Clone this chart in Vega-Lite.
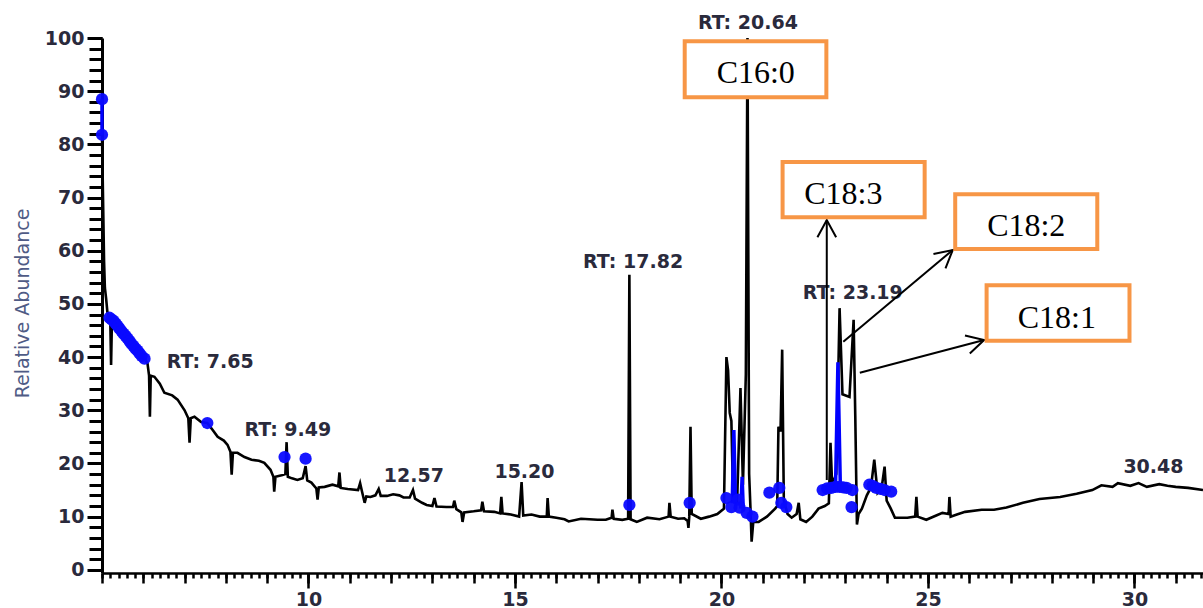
{
  "$schema": "https://vega.github.io/schema/vega-lite/v6.json",
  "width": 1101,
  "height": 535,
  "autosize": {"type": "none"},
  "padding": {"left": 102, "top": 38, "right": 0, "bottom": 35},
  "background": "white",
  "config": {"view": {"stroke": null}},
  "datasets": {
    "trace": [
      {"rt": 5.00, "abundance": 81.8}, {"rt": 5.03, "abundance": 67.5}, {"rt": 5.05, "abundance": 58}, {"rt": 5.07, "abundance": 53},
      {"rt": 5.10, "abundance": 51}, {"rt": 5.13, "abundance": 48.5}, {"rt": 5.17, "abundance": 47.5}, {"rt": 5.20, "abundance": 47.2},
      {"rt": 5.22, "abundance": 38.5}, {"rt": 5.24, "abundance": 46.8}, {"rt": 5.30, "abundance": 46.5}, {"rt": 5.40, "abundance": 45.5},
      {"rt": 5.50, "abundance": 44.6}, {"rt": 5.60, "abundance": 43.6}, {"rt": 5.70, "abundance": 42.7}, {"rt": 5.80, "abundance": 41.8},
      {"rt": 5.90, "abundance": 40.8}, {"rt": 6.00, "abundance": 40.0}, {"rt": 6.10, "abundance": 38.9}, {"rt": 6.14, "abundance": 36.5},
      {"rt": 6.16, "abundance": 28.8}, {"rt": 6.18, "abundance": 36.5}, {"rt": 6.27, "abundance": 36.3}, {"rt": 6.40, "abundance": 35.0},
      {"rt": 6.51, "abundance": 33.3}, {"rt": 6.70, "abundance": 32.8}, {"rt": 6.83, "abundance": 32.0}, {"rt": 7.00, "abundance": 30.0},
      {"rt": 7.09, "abundance": 28.5}, {"rt": 7.12, "abundance": 23.9}, {"rt": 7.15, "abundance": 28.5}, {"rt": 7.24, "abundance": 28.8},
      {"rt": 7.40, "abundance": 27.8}, {"rt": 7.55, "abundance": 27.6}, {"rt": 7.68, "abundance": 26.3}, {"rt": 7.80, "abundance": 25.0},
      {"rt": 7.95, "abundance": 24.3}, {"rt": 8.04, "abundance": 23.5}, {"rt": 8.11, "abundance": 22.2}, {"rt": 8.14, "abundance": 17.9},
      {"rt": 8.17, "abundance": 22.0}, {"rt": 8.28, "abundance": 22.0}, {"rt": 8.45, "abundance": 21.2}, {"rt": 8.62, "abundance": 20.7},
      {"rt": 8.80, "abundance": 20.5}, {"rt": 8.93, "abundance": 20.1}, {"rt": 9.08, "abundance": 18.8}, {"rt": 9.15, "abundance": 17.5},
      {"rt": 9.17, "abundance": 14.7}, {"rt": 9.20, "abundance": 17.5}, {"rt": 9.35, "abundance": 17.8}, {"rt": 9.44, "abundance": 18.0},
      {"rt": 9.47, "abundance": 24.0}, {"rt": 9.50, "abundance": 17.5}, {"rt": 9.60, "abundance": 17.2}, {"rt": 9.73, "abundance": 16.9},
      {"rt": 9.86, "abundance": 17.2}, {"rt": 9.93, "abundance": 19.5}, {"rt": 9.97, "abundance": 16.8}, {"rt": 10.07, "abundance": 16.4},
      {"rt": 10.19, "abundance": 15.3}, {"rt": 10.22, "abundance": 13.2}, {"rt": 10.25, "abundance": 15.5}, {"rt": 10.39, "abundance": 15.6},
      {"rt": 10.58, "abundance": 16.0}, {"rt": 10.72, "abundance": 15.7}, {"rt": 10.75, "abundance": 18.3}, {"rt": 10.78, "abundance": 15.4},
      {"rt": 10.95, "abundance": 15.2}, {"rt": 11.20, "abundance": 15.0}, {"rt": 11.25, "abundance": 16.3}, {"rt": 11.30, "abundance": 14.6},
      {"rt": 11.36, "abundance": 12.6}, {"rt": 11.40, "abundance": 13.8}, {"rt": 11.50, "abundance": 13.7}, {"rt": 11.62, "abundance": 14.0},
      {"rt": 11.70, "abundance": 15.2}, {"rt": 11.75, "abundance": 13.9}, {"rt": 11.90, "abundance": 13.9}, {"rt": 12.05, "abundance": 14.2},
      {"rt": 12.20, "abundance": 14.0}, {"rt": 12.30, "abundance": 13.6}, {"rt": 12.45, "abundance": 13.6}, {"rt": 12.53, "abundance": 15.0},
      {"rt": 12.58, "abundance": 13.4}, {"rt": 12.75, "abundance": 12.6}, {"rt": 12.86, "abundance": 12.2}, {"rt": 13.00, "abundance": 12.0},
      {"rt": 13.05, "abundance": 13.5}, {"rt": 13.10, "abundance": 11.9}, {"rt": 13.34, "abundance": 11.8}, {"rt": 13.50, "abundance": 11.8},
      {"rt": 13.53, "abundance": 13.0}, {"rt": 13.58, "abundance": 11.4}, {"rt": 13.70, "abundance": 10.8}, {"rt": 13.73, "abundance": 9.0},
      {"rt": 13.77, "abundance": 10.8}, {"rt": 14.00, "abundance": 11.0}, {"rt": 14.18, "abundance": 11.2}, {"rt": 14.21, "abundance": 12.8},
      {"rt": 14.25, "abundance": 11.0}, {"rt": 14.50, "abundance": 10.9}, {"rt": 14.64, "abundance": 10.6}, {"rt": 14.67, "abundance": 13.7},
      {"rt": 14.70, "abundance": 10.6}, {"rt": 14.90, "abundance": 10.4}, {"rt": 15.10, "abundance": 10.0}, {"rt": 15.16, "abundance": 16.5},
      {"rt": 15.20, "abundance": 10.2}, {"rt": 15.40, "abundance": 10.4}, {"rt": 15.60, "abundance": 10.0}, {"rt": 15.77, "abundance": 10.0},
      {"rt": 15.79, "abundance": 13.5}, {"rt": 15.82, "abundance": 10.0}, {"rt": 16.00, "abundance": 9.8}, {"rt": 16.20, "abundance": 9.5},
      {"rt": 16.30, "abundance": 9.1}, {"rt": 16.60, "abundance": 9.6}, {"rt": 17.00, "abundance": 9.4}, {"rt": 17.20, "abundance": 9.4},
      {"rt": 17.34, "abundance": 9.8}, {"rt": 17.36, "abundance": 11.3}, {"rt": 17.39, "abundance": 9.6}, {"rt": 17.60, "abundance": 9.4},
      {"rt": 17.74, "abundance": 9.6}, {"rt": 17.77, "abundance": 55.5}, {"rt": 17.80, "abundance": 9.5}, {"rt": 17.95, "abundance": 9.0},
      {"rt": 18.20, "abundance": 9.8}, {"rt": 18.50, "abundance": 9.5}, {"rt": 18.72, "abundance": 10.0}, {"rt": 18.74, "abundance": 12.6},
      {"rt": 18.77, "abundance": 10.0}, {"rt": 18.95, "abundance": 9.6}, {"rt": 19.10, "abundance": 9.7}, {"rt": 19.18, "abundance": 9.2},
      {"rt": 19.20, "abundance": 7.9}, {"rt": 19.22, "abundance": 10.0}, {"rt": 19.25, "abundance": 26.9}, {"rt": 19.28, "abundance": 10.5},
      {"rt": 19.50, "abundance": 9.6}, {"rt": 19.70, "abundance": 10.0}, {"rt": 19.90, "abundance": 10.5}, {"rt": 20.06, "abundance": 11.5},
      {"rt": 20.12, "abundance": 40.0}, {"rt": 20.16, "abundance": 37.5}, {"rt": 20.20, "abundance": 29.5}, {"rt": 20.24, "abundance": 28.0},
      {"rt": 20.28, "abundance": 14.0}, {"rt": 20.38, "abundance": 13.0}, {"rt": 20.46, "abundance": 34.2}, {"rt": 20.52, "abundance": 16.0},
      {"rt": 20.59, "abundance": 36.7}, {"rt": 20.63, "abundance": 100}, {"rt": 20.67, "abundance": 18.0}, {"rt": 20.70, "abundance": 12.0},
      {"rt": 20.73, "abundance": 5.3}, {"rt": 20.77, "abundance": 9.0}, {"rt": 20.90, "abundance": 9.0}, {"rt": 21.10, "abundance": 10.0},
      {"rt": 21.30, "abundance": 11.5}, {"rt": 21.35, "abundance": 12.0}, {"rt": 21.38, "abundance": 26.9}, {"rt": 21.43, "abundance": 26.0},
      {"rt": 21.47, "abundance": 41.4}, {"rt": 21.51, "abundance": 13.0}, {"rt": 21.60, "abundance": 10.5}, {"rt": 21.70, "abundance": 9.8},
      {"rt": 21.82, "abundance": 10.5}, {"rt": 21.87, "abundance": 12.6}, {"rt": 21.91, "abundance": 9.5}, {"rt": 22.05, "abundance": 9.0},
      {"rt": 22.20, "abundance": 10.0}, {"rt": 22.35, "abundance": 11.5}, {"rt": 22.50, "abundance": 12.0}, {"rt": 22.60, "abundance": 12.5},
      {"rt": 22.64, "abundance": 23.9}, {"rt": 22.68, "abundance": 16.0}, {"rt": 22.78, "abundance": 18.0}, {"rt": 22.86, "abundance": 49.2},
      {"rt": 22.93, "abundance": 33.0}, {"rt": 23.10, "abundance": 32.5}, {"rt": 23.20, "abundance": 47.0}, {"rt": 23.24, "abundance": 29.0},
      {"rt": 23.28, "abundance": 8.5}, {"rt": 23.32, "abundance": 10.5}, {"rt": 23.40, "abundance": 11.5}, {"rt": 23.52, "abundance": 14.0},
      {"rt": 23.62, "abundance": 15.5}, {"rt": 23.70, "abundance": 20.7}, {"rt": 23.78, "abundance": 14.5}, {"rt": 23.88, "abundance": 15.5},
      {"rt": 23.95, "abundance": 19.4}, {"rt": 24.00, "abundance": 13.0}, {"rt": 24.10, "abundance": 11.5}, {"rt": 24.20, "abundance": 9.8},
      {"rt": 24.50, "abundance": 9.8}, {"rt": 24.69, "abundance": 10.0}, {"rt": 24.72, "abundance": 13.7}, {"rt": 24.75, "abundance": 10.0},
      {"rt": 24.96, "abundance": 9.4}, {"rt": 25.20, "abundance": 10.2}, {"rt": 25.35, "abundance": 10.7}, {"rt": 25.50, "abundance": 10.5},
      {"rt": 25.52, "abundance": 13.7}, {"rt": 25.55, "abundance": 10.0}, {"rt": 25.70, "abundance": 10.4}, {"rt": 25.90, "abundance": 10.9},
      {"rt": 26.30, "abundance": 11.3}, {"rt": 26.60, "abundance": 11.3}, {"rt": 26.90, "abundance": 11.7}, {"rt": 27.30, "abundance": 12.6},
      {"rt": 27.70, "abundance": 13.3}, {"rt": 28.20, "abundance": 13.7}, {"rt": 28.60, "abundance": 14.3}, {"rt": 28.98, "abundance": 15.0},
      {"rt": 29.20, "abundance": 15.9}, {"rt": 29.47, "abundance": 15.6}, {"rt": 29.60, "abundance": 16.3}, {"rt": 29.90, "abundance": 15.8},
      {"rt": 30.10, "abundance": 16.3}, {"rt": 30.30, "abundance": 15.6}, {"rt": 30.60, "abundance": 16.1}, {"rt": 30.80, "abundance": 15.8},
      {"rt": 31.00, "abundance": 15.6}, {"rt": 31.30, "abundance": 15.4}, {"rt": 31.66, "abundance": 15.0}
    ],
    "bluepeaks": [
      {"seg": "a", "rt": 5.0, "abundance": 88.5}, {"seg": "a", "rt": 5.0, "abundance": 81.8},
      {"seg": "b", "rt": 20.26, "abundance": 12.5}, {"seg": "b", "rt": 20.30, "abundance": 26.3}, {"seg": "b", "rt": 20.34, "abundance": 12.5},
      {"seg": "c", "rt": 20.47, "abundance": 11.5}, {"seg": "c", "rt": 20.50, "abundance": 17.5}, {"seg": "c", "rt": 20.53, "abundance": 11.0},
      {"seg": "d", "rt": 22.76, "abundance": 15.0}, {"seg": "d", "rt": 22.82, "abundance": 39.0}, {"seg": "d", "rt": 22.88, "abundance": 15.0}
    ],
    "markers": [
      {"rt": 5.0, "abundance": 88.5}, {"rt": 5.0, "abundance": 81.8},
      {"rt": 5.18, "abundance": 47.4}, {"rt": 5.23, "abundance": 47.1}, {"rt": 5.28, "abundance": 46.8}, {"rt": 5.33, "abundance": 46.3},
      {"rt": 5.375, "abundance": 45.9}, {"rt": 5.42, "abundance": 45.4}, {"rt": 5.47, "abundance": 44.9}, {"rt": 5.52, "abundance": 44.4},
      {"rt": 5.57, "abundance": 44.0}, {"rt": 5.62, "abundance": 43.5}, {"rt": 5.67, "abundance": 43.0}, {"rt": 5.71, "abundance": 42.5},
      {"rt": 5.76, "abundance": 42.1}, {"rt": 5.81, "abundance": 41.6}, {"rt": 5.86, "abundance": 41.2}, {"rt": 5.91, "abundance": 40.7},
      {"rt": 5.96, "abundance": 40.2}, {"rt": 6.03, "abundance": 39.7},
      {"rt": 7.55, "abundance": 27.6},
      {"rt": 9.42, "abundance": 21.2}, {"rt": 9.93, "abundance": 20.9},
      {"rt": 17.77, "abundance": 12.2},
      {"rt": 19.23, "abundance": 12.6},
      {"rt": 20.12, "abundance": 13.5}, {"rt": 20.24, "abundance": 11.8}, {"rt": 20.40, "abundance": 13.2}, {"rt": 20.44, "abundance": 11.7},
      {"rt": 20.61, "abundance": 10.7}, {"rt": 20.75, "abundance": 10.0},
      {"rt": 21.16, "abundance": 14.5}, {"rt": 21.40, "abundance": 15.4}, {"rt": 21.45, "abundance": 12.6}, {"rt": 21.57, "abundance": 11.8},
      {"rt": 22.45, "abundance": 15.0}, {"rt": 22.56, "abundance": 15.3}, {"rt": 22.66, "abundance": 15.4}, {"rt": 22.76, "abundance": 15.6},
      {"rt": 22.86, "abundance": 15.6}, {"rt": 22.95, "abundance": 15.5}, {"rt": 23.03, "abundance": 15.4},
      {"rt": 23.17, "abundance": 15.0}, {"rt": 23.15, "abundance": 11.8},
      {"rt": 23.58, "abundance": 16.0}, {"rt": 23.66, "abundance": 15.8}, {"rt": 23.75, "abundance": 15.4}, {"rt": 23.85, "abundance": 15.2},
      {"rt": 23.95, "abundance": 15.0}, {"rt": 24.11, "abundance": 14.7}
    ],
    "rtlabels": [
      {"text": "RT: 7.65", "rt": 7.62, "abundance": 39.1},
      {"text": "RT: 9.49", "rt": 9.50, "abundance": 26.3},
      {"text": "12.57", "rt": 12.55, "abundance": 17.6},
      {"text": "15.20", "rt": 15.23, "abundance": 18.4},
      {"text": "RT: 17.82", "rt": 17.86, "abundance": 57.9},
      {"text": "RT: 20.64", "rt": 20.64, "abundance": 102.9},
      {"text": "RT: 23.19", "rt": 23.18, "abundance": 52.0},
      {"text": "30.48", "rt": 30.46, "abundance": 19.4}
    ],
    "boxes": [
      {"name": "C16:0", "rt": 19.11, "rt2": 22.54, "abundance": 99.38, "abundance2": 88.85, "trt": 20.83, "tab": 93.36},
      {"name": "C18:3", "rt": 21.48, "rt2": 24.92, "abundance": 76.68, "abundance2": 66.28, "trt": 22.95, "tab": 70.67},
      {"name": "C18:2", "rt": 25.66, "rt2": 29.10, "abundance": 70.61, "abundance2": 60.32, "trt": 27.38, "tab": 64.65},
      {"name": "C18:1", "rt": 26.42, "rt2": 29.88, "abundance": 53.50, "abundance2": 43.08, "trt": 28.12, "tab": 47.44}
    ],
    "arrows": [
      {"name": "C18:3", "rt": 22.55, "abundance": 16.9, "rt2": 22.55, "abundance2": 65.78},
      {"name": "C18:2", "rt": 22.95, "abundance": 42.89, "rt2": 25.60, "abundance2": 60.14},
      {"name": "C18:1", "rt": 23.35, "abundance": 37.06, "rt2": 26.36, "abundance2": 43.21}
    ]
  },
  "resolve": {"axis": {"x": "independent", "y": "independent"}},
  "layer": [
    {
      "data": {"name": "trace"},
      "mark": {"type": "line", "color": "black", "strokeWidth": 2.6},
      "encoding": {
        "x": {"field": "rt", "type": "quantitative",
          "scale": {"domain": [5, 31.66], "nice": false, "zero": false},
          "axis": {"orient": "bottom", "values": [10, 15, 20, 25, 30], "title": null, "grid": false,
            "tickSize": 15, "tickWidth": 2.5, "tickColor": "black", "domainColor": "black", "domainWidth": 2.5,
            "labelFont": "DejaVu Sans", "labelFontSize": 19, "labelFontWeight": "bold", "labelColor": "#2a2a3c",
            "labelPadding": 2, "labelFlush": false}},
        "y": {"field": "abundance", "type": "quantitative",
          "scale": {"domain": [-0.6, 100], "nice": false, "zero": false},
          "axis": {"orient": "left", "values": [0, 10, 20, 30, 40, 50, 60, 70, 80, 90, 100], "grid": false,
            "tickSize": 15, "tickWidth": 3, "tickColor": "black", "domainColor": "black", "domainWidth": 3,
            "labelFont": "DejaVu Sans", "labelFontSize": 19, "labelFontWeight": "bold", "labelColor": "#2a2a3c",
            "labelPadding": 3, "labelFlush": false,
            "title": "Relative Abundance", "titleFont": "DejaVu Sans", "titleFontSize": 19, "titleFontWeight": "normal",
            "titleColor": "#4f5b85", "titleX": -74, "titleY": 265, "titleAngle": -90, "titleAlign": "center", "titleBaseline": "alphabetic"}}
      }
    },
    {
      "data": {"name": "bluepeaks"},
      "mark": {"type": "line", "color": "#0000ff", "strokeWidth": 3.5},
      "encoding": {
        "x": {"field": "rt", "type": "quantitative",
          "axis": {"orient": "bottom", "tickCount": 26, "labels": false, "domain": false, "title": null, "grid": false,
            "tickSize": 10, "tickWidth": 2.5, "tickColor": "black"}},
        "y": {"field": "abundance", "type": "quantitative",
          "axis": {"orient": "left", "tickCount": 50, "labels": false, "domain": false, "title": null, "grid": false,
            "tickSize": 13, "tickWidth": 3, "tickColor": "black"}},
        "detail": {"field": "seg", "type": "nominal"}
      }
    },
    {
      "data": {"name": "markers"},
      "mark": {"type": "point", "shape": "circle", "filled": true, "color": "#0a0aff", "size": 150, "opacity": 0.95},
      "encoding": {
        "x": {"field": "rt", "type": "quantitative",
          "axis": {"orient": "bottom", "tickCount": 130, "labels": false, "domain": false, "title": null, "grid": false,
            "tickSize": 5, "tickWidth": 2.5, "tickColor": "black"}},
        "y": {"field": "abundance", "type": "quantitative", "axis": null}
      }
    },
    {
      "data": {"name": "rtlabels"},
      "mark": {"type": "text", "font": "DejaVu Sans", "fontSize": 19, "fontWeight": "bold", "color": "#2a2a3c", "align": "center", "baseline": "middle"},
      "encoding": {
        "x": {"field": "rt", "type": "quantitative", "axis": null},
        "y": {"field": "abundance", "type": "quantitative", "axis": null},
        "text": {"field": "text", "type": "nominal"}
      }
    },
    {
      "data": {"name": "arrows"},
      "mark": {"type": "rule", "color": "black", "strokeWidth": 2},
      "encoding": {
        "x": {"field": "rt", "type": "quantitative", "axis": null},
        "y": {"field": "abundance", "type": "quantitative", "axis": null},
        "x2": {"field": "rt2"},
        "y2": {"field": "abundance2"}
      }
    },
    {
      "data": {"name": "arrows"},
      "transform": [{"filter": "datum.name === 'C18:3'"}],
      "mark": {"type": "point", "shape": "M -0.54 1 L 0 0 L 0.54 1", "filled": false, "stroke": "black", "strokeWidth": 2, "size": 1200, "angle": 0, "opacity": 1},
      "encoding": {
        "x": {"field": "rt2", "type": "quantitative", "axis": null},
        "y": {"field": "abundance2", "type": "quantitative", "axis": null}
      }
    },
    {
      "data": {"name": "arrows"},
      "transform": [{"filter": "datum.name === 'C18:2'"}],
      "mark": {"type": "point", "shape": "M -0.54 1 L 0 0 L 0.54 1", "filled": false, "stroke": "black", "strokeWidth": 2, "size": 1200, "angle": 50, "opacity": 1},
      "encoding": {
        "x": {"field": "rt2", "type": "quantitative", "axis": null},
        "y": {"field": "abundance2", "type": "quantitative", "axis": null}
      }
    },
    {
      "data": {"name": "arrows"},
      "transform": [{"filter": "datum.name === 'C18:1'"}],
      "mark": {"type": "point", "shape": "M -0.54 1 L 0 0 L 0.54 1", "filled": false, "stroke": "black", "strokeWidth": 2, "size": 1200, "angle": 75, "opacity": 1},
      "encoding": {
        "x": {"field": "rt2", "type": "quantitative", "axis": null},
        "y": {"field": "abundance2", "type": "quantitative", "axis": null}
      }
    },
    {
      "data": {"name": "boxes"},
      "mark": {"type": "rect", "fill": "white", "stroke": "#f79646", "strokeWidth": 4},
      "encoding": {
        "x": {"field": "rt", "type": "quantitative", "axis": null},
        "x2": {"field": "rt2"},
        "y": {"field": "abundance", "type": "quantitative", "axis": null},
        "y2": {"field": "abundance2"}
      }
    },
    {
      "data": {"name": "boxes"},
      "mark": {"type": "text", "font": "Liberation Serif", "fontSize": 32, "color": "black", "align": "center", "baseline": "middle"},
      "encoding": {
        "x": {"field": "trt", "type": "quantitative", "axis": null},
        "y": {"field": "tab", "type": "quantitative", "axis": null},
        "text": {"field": "name", "type": "nominal"}
      }
    }
  ]
}
